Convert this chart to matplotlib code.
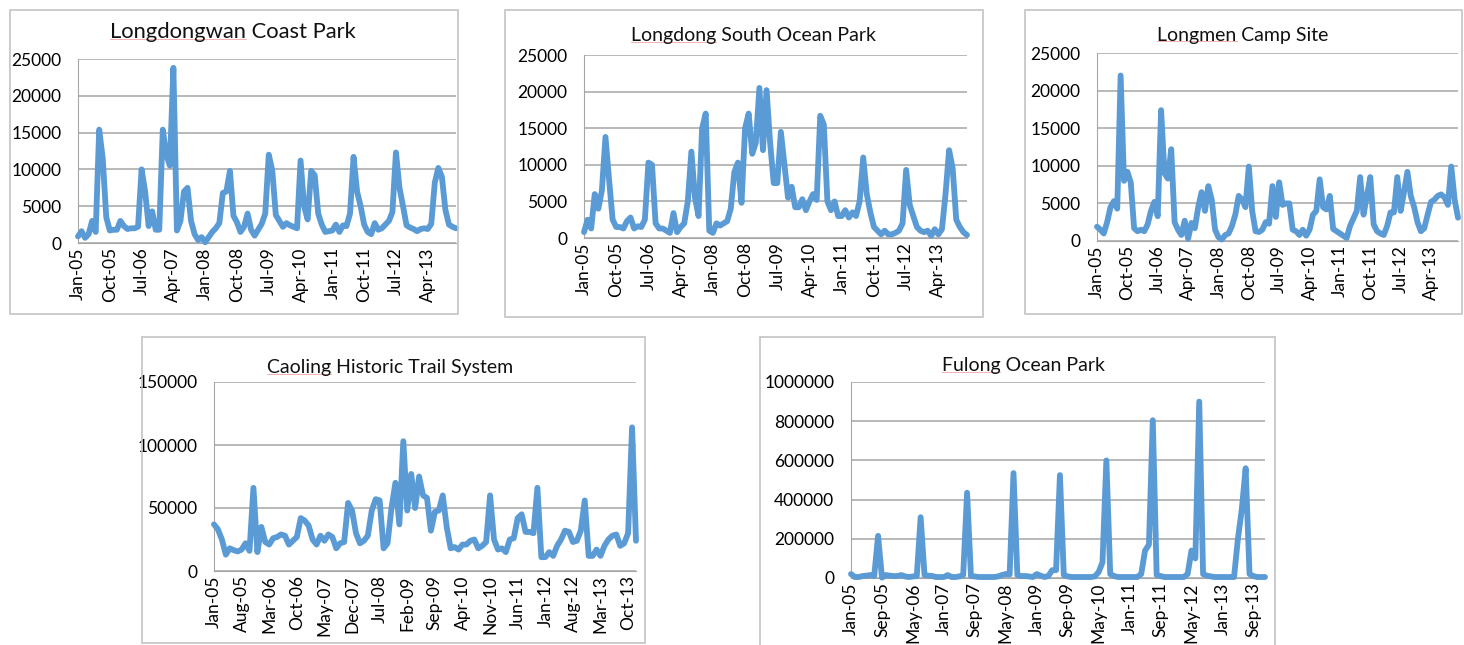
import numpy as np
import pandas as pd
import matplotlib
matplotlib.use("Agg")
import matplotlib.pyplot as plt
from matplotlib.patches import Rectangle
from matplotlib.lines import Line2D
from matplotlib.ticker import StrMethodFormatter

# monthly visitors, Jan-05 .. Dec-13
months = pd.date_range("2005-01-01", periods=108, freq="MS").strftime("%b-%y").tolist()

longdongwan = [900, 1600, 700, 1200, 3000, 1500, 15400, 11500, 3500, 1700,
               1800, 1800, 3000, 2300, 1900, 2000, 2000, 2200, 10000, 7000,
               2300, 4300, 1800, 1800, 15400, 12000, 10500, 23800, 1700, 3000,
               7000, 7500, 3000, 1200, 400, 800, 100, 800, 1500, 2000,
               2700, 6800, 7000, 9800, 3700, 2800, 1500, 2200, 4000, 1800,
               1000, 1800, 2600, 4000, 12000, 9800, 3800, 3000, 2200, 2700,
               2400, 2200, 2000, 11200, 5000, 3200, 9800, 9200, 4000, 2500,
               1500, 1600, 1700, 2500, 1500, 2400, 2300, 4000, 11700, 7000,
               5000, 2500, 1500, 1200, 2700, 1800, 2000, 2500, 3000, 4200,
               12300, 7500, 5000, 2400, 2100, 1900, 1600, 1900, 2000, 1900,
               2600, 8200, 10200, 9000, 4500, 2500, 2200, 2000]

longdong_south = [800, 2500, 1300, 6000, 4000, 6500, 13800, 8000, 2500, 1500,
                  1500, 1300, 2300, 2800, 1300, 1600, 1500, 2500, 10300, 10000,
                  2000, 1300, 1300, 1000, 700, 3400, 800, 1500, 2000, 5000,
                  11800, 5500, 3000, 15000, 17000, 1000, 700, 2000, 1700, 2000,
                  2300, 4000, 9000, 10300, 4800, 15000, 17000, 11500, 13000, 20500,
                  12000, 20200, 13000, 7500, 7500, 14500, 10000, 5500, 7000, 4200,
                  4200, 5300, 3800, 5000, 6000, 5200, 16700, 15500, 5000, 3800,
                  5000, 3000, 3000, 3800, 2800, 3500, 3000, 5000, 11000, 6000,
                  3500, 1500, 1000, 500, 1000, 500, 500, 700, 1000, 2000,
                  9300, 4500, 3000, 1500, 1000, 800, 1000, 300, 1200, 500,
                  1200, 6000, 12000, 9500, 2500, 1500, 800, 400]

longmen = [1900, 1500, 1000, 2500, 4500, 5300, 4300, 22000, 8000, 9200,
           7800, 1700, 1300, 1500, 1300, 2200, 4000, 5200, 3300, 17400,
           9000, 8300, 12200, 2500, 1500, 800, 2700, 300, 2400, 1700,
           4500, 6500, 4000, 7300, 5500, 1500, 500, 200, 800, 1000,
           2000, 3500, 6000, 5500, 4500, 9900, 4000, 1300, 1200, 1500,
           2500, 2300, 7300, 3200, 7800, 4800, 5000, 5000, 1500, 1300,
           800, 1500, 700, 1500, 3500, 4000, 8200, 4500, 4200, 6000,
           1600, 1300, 1000, 700, 400, 2000, 3000, 4000, 8500, 3500,
           6000, 8500, 2200, 1300, 1000, 800, 2000, 3800, 3800, 8500,
           4000, 6500, 9200, 6000, 4500, 2500, 1300, 1700, 3500, 5200,
           5500, 6000, 6200, 5800, 4800, 9900, 5500, 3100]

caoling = [37000, 33000, 25000, 13000, 18000, 16500, 15500, 17000, 22000, 16000,
           66000, 15000, 35000, 23000, 21000, 26000, 27000, 29000, 28000, 21000,
           24000, 27000, 42000, 40000, 36000, 25000, 21000, 28000, 24000, 29000,
           27000, 18000, 22000, 23000, 54000, 48000, 30000, 22000, 24000, 28000,
           48000, 57000, 56000, 18000, 22000, 50000, 70000, 37000, 103000, 48000,
           77000, 50000, 75000, 60000, 58000, 32000, 47000, 48000, 60000, 35000,
           18000, 19000, 17000, 21000, 21000, 24000, 25000, 18000, 20000, 23000,
           60000, 25000, 17000, 18000, 15000, 25000, 26000, 42000, 45000, 31000,
           31000, 30000, 66000, 11000, 11000, 15000, 12000, 20000, 25000, 32000,
           31000, 23000, 24000, 32000, 56000, 12000, 12000, 17000, 12000, 20000,
           25000, 28000, 29000, 20000, 22000, 30000, 114000, 24000]

fulong = [20000, 5000, 5000, 10000, 12000, 15000, 10000, 215000, 2000, 15000,
          12000, 10000, 10000, 15000, 8000, 5000, 8000, 10000, 310000, 15000,
          12000, 10000, 5000, 5000, 5000, 15000, 5000, 5000, 8000, 15000,
          435000, 10000, 8000, 5000, 5000, 5000, 5000, 5000, 8000, 15000,
          20000, 18000, 535000, 15000, 10000, 10000, 8000, 5000, 20000, 12000,
          5000, 10000, 40000, 40000, 525000, 15000, 8000, 5000, 5000, 5000,
          5000, 5000, 5000, 8000, 30000, 80000, 600000, 20000, 10000, 5000,
          5000, 5000, 5000, 5000, 5000, 20000, 140000, 170000, 805000, 15000,
          10000, 5000, 5000, 5000, 5000, 5000, 5000, 20000, 140000, 100000,
          900000, 20000, 12000, 8000, 5000, 5000, 5000, 5000, 5000, 5000,
          200000, 350000, 560000, 20000, 10000, 5000, 5000, 5000]

plt.rcParams['font.family'] = ['Lato', 'DejaVu Sans']

W, H = 1464, 645
fig = plt.figure(figsize=(W / 100, H / 100), dpi=100)
fig.patch.set_facecolor('white')
renderer = fig.canvas.get_renderer()

LINE = '#5b9bd5'
GRID = '#a6a6a6'


def panel(box, plot, title, title_xy, tsize, values, step, ymax, ystep):
    # outer chart border (pixel coords: left, top, right, bottom)
    l, t, r, b = box
    fig.patches.append(Rectangle((l / W, 1 - b / H), (r - l) / W, (b - t) / H,
                                 transform=fig.transFigure, fill=False,
                                 edgecolor='#c4c4c4', lw=1.2))
    l, t, r, b = plot
    ax = fig.add_axes([l / W, 1 - b / H, (r - l) / W, (b - t) / H])
    x = np.arange(len(values))
    ax.plot(x, values, color=LINE, lw=4.2, solid_joinstyle='round',
            solid_capstyle='round', clip_on=False, zorder=3)
    ax.set_xlim(0, len(values) - 1)
    ax.set_ylim(0, ymax)
    ax.set_yticks(np.arange(0, ymax + 1, ystep))
    ax.yaxis.set_major_formatter(StrMethodFormatter('{x:.0f}'))
    ax.set_xticks(x[::step])
    ax.set_xticklabels(months[::step], rotation=90)
    ax.grid(axis='y', color=GRID, lw=1.1)
    ax.set_axisbelow(True)
    ax.spines['top'].set_visible(False)
    ax.spines['right'].set_visible(False)
    ax.spines['left'].set_color(GRID)
    ax.spines['bottom'].set_color(GRID)
    ax.tick_params(axis='y', length=0, labelsize=12.5, pad=12)
    ax.tick_params(axis='x', length=0, labelsize=12.5, pad=3)
    txt = fig.text(title_xy[0] / W, 1 - title_xy[1] / H, title, ha='center',
                   va='center', fontsize=tsize, color='#111111')
    # faint red spell-check underline under the first word, as in the source
    bb = txt.get_window_extent(renderer)
    tmp = fig.text(0, 0, title.split()[0], fontsize=tsize)
    wlen = tmp.get_window_extent(renderer).width
    tmp.remove()
    y = bb.y0 + 3
    fig.add_artist(Line2D([bb.x0 / W, (bb.x0 + wlen) / W], [y / H, y / H],
                          transform=fig.transFigure, color='#f2a5a5', lw=0.6))
    return ax


panel((10, 10, 458, 314), (78, 59, 456, 243), 'Longdongwan Coast Park',
      (233, 32), 15.8, longdongwan, 9, 25000, 5000)
panel((505, 10, 983, 317), (584, 55, 967, 238), 'Longdong South Ocean Park',
      (753, 36), 14, longdong_south, 9, 25000, 5000)
panel((1025, 10, 1462, 314), (1097, 53, 1458, 241), 'Longmen Camp Site',
      (1243, 35), 14, longmen, 9, 25000, 5000)
panel((142, 337, 645, 643), (214, 382, 636, 571), 'Caoling Historic Trail System',
      (390, 368), 14, caoling, 7, 150000, 50000)
panel((760, 337, 1275, 660), (851, 382, 1265, 578), 'Fulong Ocean Park',
      (1023, 366), 14, fulong, 8, 1000000, 200000)

fig.savefig('out.png', dpi=100)
